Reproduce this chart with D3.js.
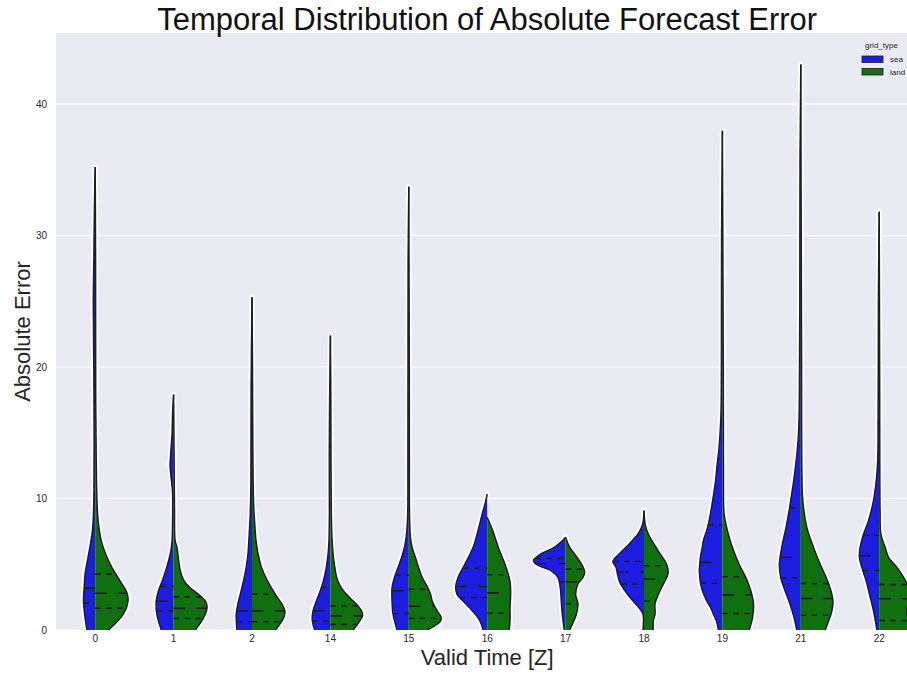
<!DOCTYPE html>
<html>
<head>
<meta charset="utf-8">
<script src="https://cdn.jsdelivr.net/npm/d3@7"></script>
<style>
  html, body { margin: 0; padding: 0; background: #ffffff; }
  svg { display: block; font-family: "Liberation Sans", Arial, sans-serif; }
</style>
</head>
<body>
<svg id="chart" width="907" height="673"></svg>
<script>
// ---------------- DATA ----------------
const categories = ["0", "1", "2", "14", "15", "16", "17", "18", "19", "21", "22"];
const hueLevels = ["sea", "land"];
const yTicks = [0, 10, 20, 30, 40];

// kernel density profiles: [absolute error, relative density]
const seaDensity = [
  [[0,8.3],[1.2,10.5],[2.2,11.7],[3.2,11],[4.3,10],[5.3,7.7],[6.3,5.3],[7.6,2.7],[8.9,1.7],[11,1.2],[15,1.1],[20,1.4],[25,1.9],[28,1.4],[32,0.8],[35.2,0]],
  [[0,12.3],[1.2,16.7],[2.2,17.3],[3.0,15],[3.8,11],[4.8,6.7],[5.8,3.3],[6.6,1.7],[8,1.1],[10.5,1.1],[11.6,2.5],[12.5,3.5],[13.5,2.8],[15,1.5],[16.5,1.0],[17.9,0]],
  [[0,15],[1.2,15.7],[2.0,14],[2.7,11.7],[3.8,8.3],[4.8,5.7],[5.8,4],[7.4,2.7],[8.9,1.7],[11.4,1.1],[18,0.9],[25.3,0]],
  [[0,15.7],[0.7,18],[1.45,17.3],[2.2,14],[3.0,10],[3.8,6.7],[4.8,4],[5.8,2.3],[6.8,1.4],[9,1.0],[13,1.1],[17,0.8],[22.4,0]],
  [[0,11.7],[1.2,15.7],[2.2,16.7],[3.2,16.7],[4.0,14.3],[4.7,11],[5.5,7.3],[6.3,4.3],[7.3,2.3],[8.8,1.1],[12,0.9],[20,0.8],[28,0.7],[33.7,0]],
  [[0,4],[0.7,7.3],[1.45,14.7],[2.2,24],[2.7,30],[3.35,31.3],[4.0,29],[5.0,22.3],[6.3,14],[7.6,9],[8.9,4.7],[9.8,1.5],[10.36,0]],
  [[0,1.3],[1.2,3.3],[2.2,4.3],[3.2,5.3],[4.0,7.7],[4.5,14.3],[5.0,29.3],[5.3,32],[5.8,24.3],[6.3,11],[6.8,3],[7.05,0]],
  [[0,1],[1.2,1],[1.6,4],[2.3,12],[3.1,20],[3.7,24.5],[4.3,26.5],[4.8,28],[5.2,31],[5.8,24.5],[6.6,14],[7.3,6],[8.0,1.5],[9.08,0]],
  [[0,4],[0.7,6],[1.2,9],[1.7,11.7],[2.2,15.5],[3.0,20],[3.5,21.7],[4.0,22.5],[4.5,23],[5.0,22.5],[5.5,22],[6.3,20],[6.8,19],[7.6,15.5],[8.8,12],[9.85,9.7],[11.4,6.7],[12.4,5.5],[13.9,3.3],[15,2.3],[16.5,1.4],[20,1.0],[30,0.8],[37.97,0]],
  [[0,4],[0.94,6.7],[1.96,10.7],[2.98,15.7],[3.99,20],[5.0,21.3],[6.28,19],[7.8,14.7],[9.85,10],[12.4,5.3],[14.9,2.3],[18,1.4],[25,1.0],[35,0.8],[43,0]],
  [[0,2.3],[1.45,5.7],[2.72,9.7],[3.74,13],[4.76,17.3],[5.52,19.7],[6.28,19],[7.28,15.7],[8.3,10.7],[9.85,5.7],[12.4,1.8],[16,1.1],[20,0.9],[25,0.8],[31.8,0]]
];
const landDensity = [
  [[0,13.3],[1.2,28],[2.2,32.7],[2.8,31.7],[3.7,25],[4.7,17],[5.8,10.3],[6.8,6],[7.8,3.7],[8.9,2.3],[11.4,1.3],[15,0.8],[18,0.5],[28,0.4],[35.2,0]],
  [[0,21.7],[0.95,30],[1.7,33.3],[2.2,31.7],[2.7,25],[3.2,16.7],[3.8,10],[4.5,6.7],[5.3,5],[6.3,3.3],[6.8,1.5],[9,0.9],[13.2,0.5],[17.9,0]],
  [[0,23.3],[0.95,31.7],[1.45,32.7],[1.95,30],[2.7,23.3],[3.8,15],[4.8,9.3],[5.8,6],[6.8,4],[8.1,2.7],[9.4,1.7],[11.4,1.1],[16,0.7],[20,0.5],[25.3,0]],
  [[0,22.7],[0.7,29.3],[1.07,32],[1.45,31],[1.95,26],[2.45,19.3],[3.0,12.7],[3.8,7],[4.8,4.3],[5.8,2.7],[6.8,1.7],[9,0.9],[12.9,0.6],[18,0.4],[22.4,0]],
  [[0,18.3],[0.7,31.7],[1.07,31.7],[1.45,28.3],[2.2,23.3],[2.7,21.7],[3.2,19],[4.0,13.3],[4.7,10],[5.5,6.7],[6.3,3.3],[7.0,1.7],[8.5,0.8],[10,0.6],[20,0.5],[33.7,0]],
  [[0,22],[0.7,22.7],[1.7,22.7],[2.7,23.3],[3.7,22.7],[5.0,17.7],[6.3,11],[7.6,5.3],[8.57,0]],
  [[0,4],[0.45,6.7],[1.2,10.7],[2.0,12.3],[2.7,10],[3.5,12.3],[4.0,17.3],[4.4,19],[4.9,16.7],[5.6,10.7],[6.3,4],[7.05,0]],
  [[0,9.3],[0.7,9.3],[1.2,11],[2.0,11],[2.7,14.3],[3.5,19.3],[4.3,24],[5.0,22.5],[6.0,14.3],[7.3,4.3],[8.0,1.3],[9.08,0]],
  [[0,26.7],[0.94,30],[1.96,31],[2.98,28.3],[4.0,23.3],[5.0,16.7],[6.28,10],[7.56,5],[8.83,1.7],[11,1.1],[20,0.9],[37.97,0]],
  [[0,24.3],[0.69,27.7],[1.45,31],[2.21,32],[2.98,30],[3.99,25.3],[5.0,19.3],[6.28,12.7],[7.8,6],[9.85,2],[12,1.1],[20,0.8],[25,0.6],[43,0]],
  [[0,32],[0.6,30],[1.2,27.5],[1.8,28],[2.5,31],[3.25,29],[4.0,24.3],[4.76,17.7],[5.52,9.3],[6.28,6],[7.28,1.7],[9,0.9],[14,0.6],[18,0.5],[31.8,0]]
];

// quartiles [Q1, median, Q3] (null = not visible)
const seaQuartiles = [
  [2.06, 3.18, null], [1.45, 2.21, 3.31], [0.63, 1.45, 9.2], [0.69, 1.45, 3.23],
  [1.25, 2.98, 4.17], [2.47, 3.31, 4.7], [3.66, 5.06, 5.44], [3.49, 4.43, 5.21],
  [3.56, 5.14, 8.0], [3.95, 5.52, 9.29], [4.53, 5.65, 7.2]
];
const landQuartiles = [
  [1.65, 2.8, 4.25], [0.87, 1.65, 2.52], [0.63, 1.45, 2.72], [0.43, 1.07, 1.83],
  [0.89, 1.81, 3.1], [1.27, 2.82, 4.2], [2.0, 3.66, 4.63], [2.21, 3.87, 4.89],
  [1.25, 2.67, 4.05], [1.12, 2.39, 3.54], [0.72, 2.38, 3.45]
];

// ---------------- CHART ----------------
const colors = { sea: "#1e1ee0", land: "#107010" };
const edge = "#1e1e1e";
const panel = { left: 56, top: 33, right: 56 + 11 * 78.4, bottom: 630 };

const svg = d3.select("#chart");

const x = d3.scaleBand().domain(categories).range([panel.left, panel.right]).paddingInner(0).paddingOuter(0);
const y = d3.scaleLinear().domain([0, 45.4]).range([panel.bottom, panel.top]);
const w = d3.scaleLinear().domain([0, 32]).range([0, x.bandwidth() * 0.41]);

// panel background
svg.append("rect")
  .attr("x", panel.left).attr("y", panel.top)
  .attr("width", panel.right - panel.left).attr("height", panel.bottom - panel.top)
  .attr("fill", "#eaeaf2");

svg.append("clipPath").attr("id", "clip").append("rect")
  .attr("x", panel.left).attr("y", panel.top - 2)
  .attr("width", panel.right - panel.left).attr("height", panel.bottom - panel.top + 2);

// horizontal gridlines
svg.append("g").selectAll("line").data(yTicks).join("line")
  .attr("x1", panel.left).attr("x2", panel.right)
  .attr("y1", d => y(d)).attr("y2", d => y(d))
  .attr("stroke", "#ffffff").attr("stroke-width", 1.2);

// y axis
const yAxis = svg.append("g").attr("transform", `translate(${panel.left},0)`)
  .call(d3.axisLeft(y).tickValues(yTicks).tickSize(0).tickPadding(9).tickFormat(d3.format("d")));
yAxis.select(".domain").remove();
yAxis.selectAll("text").attr("font-size", 10).attr("fill", "#262626")
  .attr("font-family", "Liberation Sans, Arial, sans-serif");

// x axis
const xAxis = svg.append("g").attr("transform", `translate(0,${panel.bottom})`)
  .call(d3.axisBottom(x).tickSize(0).tickPadding(5));
xAxis.select(".domain").remove();
xAxis.selectAll("text").attr("font-size", 10).attr("fill", "#262626")
  .attr("font-family", "Liberation Sans, Arial, sans-serif");

// violins
const plot = svg.append("g").attr("clip-path", "url(#clip)");
const curve = d3.curveCatmullRom.alpha(0.5);

function halfWidthAt(profile, v) {
  for (let i = 1; i < profile.length; i++) {
    const [v0, d0] = profile[i - 1], [v1, d1] = profile[i];
    if (v >= v0 && v <= v1) return d0 + (d1 - d0) * (v - v0) / (v1 - v0);
  }
  return 0;
}

const halves = [];
categories.forEach((c, i) => {
  const cx = x(c) + x.bandwidth() / 2;
  halves.push({ cx, side: -1, hue: "sea", profile: seaDensity[i], q: seaQuartiles[i] });
  halves.push({ cx, side: 1, hue: "land", profile: landDensity[i], q: landQuartiles[i] });
});

const outline = h => d3.line().curve(curve)
  .x(d => h.cx + h.side * w(d[1])).y(d => y(d[0]))(h.profile);
const fillArea = h => d3.area().curve(curve)
  .y(d => y(d[0])).x0(h.cx).x1(d => h.cx + h.side * w(d[1]))(h.profile);

// white halo
plot.append("g").selectAll("path").data(halves).join("path")
  .attr("d", outline).attr("fill", "none")
  .attr("stroke", "#ffffff").attr("stroke-width", 5).attr("stroke-linejoin", "round")
  .attr("stroke-linecap", "round");

// fills
plot.append("g").selectAll("path").data(halves).join("path")
  .attr("d", fillArea).attr("fill", h => colors[h.hue]).attr("stroke", "none");

// edges
plot.append("g").selectAll("path").data(halves).join("path")
  .attr("d", outline).attr("fill", "none")
  .attr("stroke", edge).attr("stroke-width", 1.5).attr("stroke-linejoin", "round");

// quartile lines
const qLines = [];
halves.forEach(h => {
  h.q.forEach((v, k) => {
    if (v === null) return;
    const hw = w(halfWidthAt(h.profile, v));
    const xa = h.side < 0 ? h.cx - hw : h.cx;
    const xb = h.side < 0 ? h.cx : h.cx + hw;
    qLines.push({ xa, xb, yv: y(v), median: k === 1 });
  });
});
plot.append("g").selectAll("line").data(qLines).join("line")
  .attr("x1", d => d.xa).attr("x2", d => d.xb)
  .attr("y1", d => d.yv).attr("y2", d => d.yv)
  .attr("stroke", edge).attr("stroke-width", 1.6)
  .attr("stroke-dasharray", d => d.median ? "11.5,11.5" : "5.5,5.5");

// title and axis labels
svg.append("text").attr("x", (panel.left + panel.right) / 2).attr("y", 30)
  .attr("text-anchor", "middle").attr("font-size", 31).attr("fill", "#111")
  .text("Temporal Distribution of Absolute Forecast Error");

svg.append("text").attr("x", (panel.left + panel.right) / 2).attr("y", 665)
  .attr("text-anchor", "middle").attr("font-size", 22).attr("fill", "#262626")
  .text("Valid Time [Z]");

svg.append("text").attr("transform", `translate(30,${(panel.top + panel.bottom) / 2}) rotate(-90)`)
  .attr("text-anchor", "middle").attr("font-size", 22).attr("fill", "#262626")
  .text("Absolute Error");

// legend
const lg = svg.append("g").attr("font-size", 8).attr("fill", "#262626");
lg.append("text").attr("x", 865).attr("y", 48).text("grid_type");
hueLevels.forEach((hname, i) => {
  lg.append("rect").attr("x", 862).attr("y", 56 + i * 12.5).attr("width", 21).attr("height", 6.5)
    .attr("fill", colors[hname]).attr("stroke", edge).attr("stroke-width", 0.8);
  lg.append("text").attr("x", 890).attr("y", 62 + i * 12.5).text(hname);
});
</script>
</body>
</html>
